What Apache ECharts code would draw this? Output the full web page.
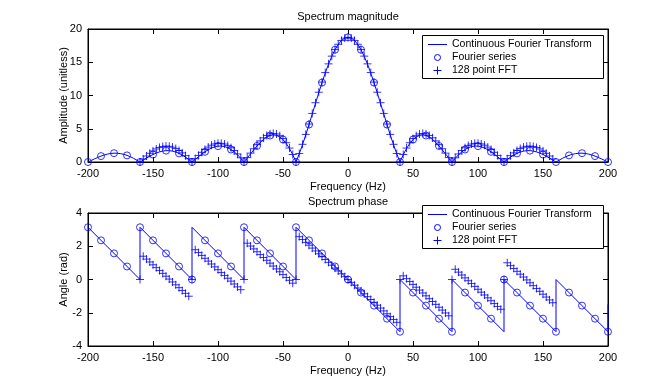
<!DOCTYPE html>
<html><head><meta charset="utf-8">
<script src="https://cdn.jsdelivr.net/npm/echarts@6/dist/echarts.min.js"></script>
<style>html,body{margin:0;padding:0;background:#fff}#c{width:671px;height:389px}</style>
</head><body><div id="c"></div>
<script>
// ---------- DATA ----------
// Continuous Fourier Transform magnitude, f = -200 .. 200 Hz, step 2.5 Hz
const cftStart = -200, cftStep = 2.5;
const cftMag = [
 0, 0.236, 0.469, 0.689, 0.888, 1.059, 1.192, 1.283, 1.326, 1.319, 1.260, 1.151, 0.993, 0.792, 0.554, 0.287,
 0, 0.296, 0.589, 0.870, 1.125, 1.346, 1.521, 1.643, 1.705, 1.703, 1.634, 1.498, 1.299, 1.040, 0.731, 0.380,
 0, 0.396, 0.794, 1.179, 1.535, 1.847, 2.101, 2.284, 2.387, 2.401, 2.322, 2.146, 1.876, 1.516, 1.075, 0.565,
 0, 0.601, 1.218, 1.829, 2.412, 2.941, 3.393, 3.746, 3.979, 4.072, 4.010, 3.781, 3.376, 2.792, 2.030, 1.096,
 0, 1.242, 2.610, 4.081, 5.627, 7.218, 8.822, 10.407, 11.937, 13.380, 14.704, 15.880, 16.881, 17.684, 18.272, 18.630,
 18.75,
 18.630, 18.272, 17.684, 16.881, 15.880, 14.704, 13.380, 11.937, 10.407, 8.822, 7.218, 5.627, 4.081, 2.610, 1.242, 0,
 1.096, 2.030, 2.792, 3.376, 3.781, 4.010, 4.072, 3.979, 3.746, 3.393, 2.941, 2.412, 1.829, 1.218, 0.601, 0,
 0.565, 1.075, 1.516, 1.876, 2.146, 2.322, 2.401, 2.387, 2.284, 2.101, 1.847, 1.535, 1.179, 0.794, 0.396, 0,
 0.380, 0.731, 1.040, 1.299, 1.498, 1.634, 1.703, 1.705, 1.643, 1.521, 1.346, 1.125, 0.870, 0.589, 0.296, 0,
 0.287, 0.554, 0.792, 0.993, 1.151, 1.260, 1.319, 1.326, 1.283, 1.192, 1.059, 0.888, 0.689, 0.469, 0.236, 0
];
// Continuous Fourier Transform phase: straight segments between these break points
const cftPhaseFreq  = [-200, -160, -160, -120, -120, -80, -80, -40, -40, 40, 40, 80, 80, 120, 120, 160, 160, 200, 200];
const cftPhaseAngle = [3.1416, 0, 3.1416, 0, 3.1416, 0, 3.1416, 0, 3.1416, -3.1416, 0, -3.1416, 0, -3.1416, 0, -3.1416, 0, -3.1416, -1.5];

// Fourier series, f = -200 .. 200 Hz, step 10 Hz
const fsStart = -200, fsStep = 10;
const fsMag = [
 0, 0.888, 1.326, 0.993, 0, 1.125, 1.705, 1.299, 0, 1.535, 2.387, 1.876, 0, 2.412, 3.979, 3.376, 0, 5.627, 11.937, 16.881,
 18.75,
 16.881, 11.937, 5.627, 0, 3.376, 3.979, 2.412, 0, 1.876, 2.387, 1.535, 0, 1.299, 1.705, 1.125, 0, 0.993, 1.326, 0.888, 0
];
const fsPhase = [
 3.142, 2.356, 1.571, 0.785, 3.142, 2.356, 1.571, 0.785, 0, 2.356, 1.571, 0.785, 3.142, 2.356, 1.571, 0.785, 3.142, 2.356, 1.571, 0.785,
 0,
 -0.785, -1.571, -2.356, -3.142, -0.785, -1.571, -2.356, -3.142, -0.785, -1.571, -2.356, 0, -0.785, -1.571, -2.356, -3.142, -0.785, -1.571, -2.356, -3.142
];

// 128 point FFT, f = -160 .. 157.5 Hz, step 2.5 Hz
const fftStart = -160, fftStep = 2.5;
const fftMag = [
 0, 0.457, 0.898, 1.306, 1.665, 1.964, 2.189, 2.333, 2.390, 2.356, 2.232, 2.022, 1.732, 1.371, 0.953, 0.490,
 0, 0.500, 0.992, 1.458, 1.879, 2.240, 2.525, 2.721, 2.819, 2.812, 2.696, 2.472, 2.144, 1.720, 1.210, 0.631,
 0, 0.663, 1.336, 1.994, 2.612, 3.168, 3.635, 3.992, 4.219, 4.297, 4.212, 3.954, 3.516, 2.896, 2.098, 1.128,
 0, 1.270, 2.662, 4.151, 5.709, 7.307, 8.912, 10.492, 12.014, 13.446, 14.757, 15.920, 16.908, 17.700, 18.279, 18.632,
 18.75, 18.632, 18.279, 17.700, 16.908, 15.920, 14.757, 13.446, 12.014, 10.492, 8.912, 7.307, 5.709, 4.151, 2.662, 1.270,
 0, 1.128, 2.098, 2.896, 3.516, 3.954, 4.212, 4.297, 4.219, 3.992, 3.635, 3.168, 2.612, 1.994, 1.336, 0.663,
 0, 0.631, 1.210, 1.720, 2.144, 2.472, 2.696, 2.812, 2.819, 2.721, 2.525, 2.240, 1.879, 1.458, 0.992, 0.500,
 0, 0.490, 0.953, 1.371, 1.732, 2.022, 2.232, 2.356, 2.390, 2.333, 2.189, 1.964, 1.665, 1.306, 0.898, 0.457
];
const fftPhase = [
 0, 1.399, 1.228, 1.056, 0.884, 0.712, 0.540, 0.369, 0.197, 0.025, -0.147, -0.319, -0.491, -0.663, -0.834, -1.006,
 0, 1.792, 1.620, 1.448, 1.276, 1.104, 0.933, 0.761, 0.589, 0.417, 0.245, 0.074, -0.098, -0.270, -0.442, -0.614,
 0, 2.184, 2.013, 1.841, 1.669, 1.497, 1.325, 1.154, 0.982, 0.810, 0.638, 0.466, 0.295, 0.123, -0.049, -0.221,
 0, 2.577, 2.405, 2.233, 2.062, 1.890, 1.718, 1.546, 1.374, 1.203, 1.031, 0.859, 0.687, 0.515, 0.344, 0.172,
 0, -0.172, -0.344, -0.515, -0.687, -0.859, -1.031, -1.203, -1.374, -1.546, -1.718, -1.890, -2.062, -2.233, -2.405, -2.577,
 0, 0.221, 0.049, -0.123, -0.295, -0.466, -0.638, -0.810, -0.982, -1.154, -1.325, -1.497, -1.669, -1.841, -2.013, -2.184,
 0, 0.614, 0.442, 0.270, 0.098, -0.074, -0.245, -0.417, -0.589, -0.761, -0.933, -1.104, -1.276, -1.448, -1.620, -1.792,
 0, 1.006, 0.834, 0.663, 0.491, 0.319, 0.147, -0.025, -0.197, -0.369, -0.540, -0.712, -0.884, -1.056, -1.228, -1.399
];

const seriesNames = ['Continuous Fourier Transform', 'Fourier series', '128 point FFT'];
const titles = ['Spectrum magnitude', 'Spectrum phase'];
const xName = 'Frequency (Hz)';
const yNames = ['Amplitude (unitless)', 'Angle (rad)'];
const xRange = [-200, 200, 50];
const yRanges = [[0, 20, 5], [-4, 4, 2]];

// ---------- CHART ----------
const FONT = '"Liberation Sans", Arial, sans-serif';
const BLUE = '#0000ff';
const freqs = (start, step, arr) => arr.map((_, i) => start + i * step);
const zip = (xs, ys) => xs.map((x, i) => [x, ys[i]]);

const cftFreq = freqs(cftStart, cftStep, cftMag);
const fsFreq = freqs(fsStart, fsStep, fsMag);
const fftFreq = freqs(fftStart, fftStep, fftMag);

const grids = [
  {left: 88, top: 29, width: 520, height: 133, show: true, borderColor: '#000', borderWidth: 1},
  {left: 88, top: 213, width: 520, height: 133, show: true, borderColor: '#000', borderWidth: 1}
];

const tickStyle = {inside: true, length: 5, lineStyle: {color: '#000', width: 1}};
const lblStyle = {color: '#000', fontSize: 11, fontFamily: FONT};

const xAxes = [], yAxes = [];
[0, 1].forEach(g => {
  xAxes.push({gridIndex: g, type: 'value', min: xRange[0], max: xRange[1], interval: xRange[2], position: 'bottom',
    axisLine: {show: true, onZero: false, lineStyle: {color: '#000'}}, axisTick: tickStyle,
    axisLabel: Object.assign({margin: 6, showMinLabel: true, showMaxLabel: true}, lblStyle),
    splitLine: {show: false}, name: xName, nameLocation: 'middle', nameGap: 19, nameMoveOverlap: false,
    nameTextStyle: Object.assign({}, lblStyle)});
  xAxes.push({gridIndex: g, type: 'value', min: xRange[0], max: xRange[1], interval: xRange[2], position: 'top',
    axisLine: {show: true, onZero: false, lineStyle: {color: '#000'}}, axisTick: tickStyle,
    axisLabel: {show: false}, splitLine: {show: false}});
  const yr = yRanges[g];
  yAxes.push({gridIndex: g, type: 'value', min: yr[0], max: yr[1], interval: yr[2], position: 'left',
    axisLine: {show: true, onZero: false, lineStyle: {color: '#000'}}, axisTick: tickStyle,
    axisLabel: Object.assign({margin: 6}, lblStyle), splitLine: {show: false},
    name: yNames[g], nameLocation: 'middle', nameGap: 19, nameRotate: 90, nameMoveOverlap: false,
    nameTextStyle: Object.assign({}, lblStyle)});
  yAxes.push({gridIndex: g, type: 'value', min: yr[0], max: yr[1], interval: yr[2], position: 'right',
    axisLine: {show: true, onZero: false, lineStyle: {color: '#000'}}, axisTick: tickStyle,
    axisLabel: {show: false}, splitLine: {show: false}});
});

const plusPath = 'path://M4,0 L4,8 M0,4 L8,4';
function trio(g, lineData, fsData, fftData) {
  const xi = g * 2, yi = g * 2;
  return [
    {name: seriesNames[0], type: 'line', xAxisIndex: xi, yAxisIndex: yi, data: lineData,
      symbol: 'none', lineStyle: {color: BLUE, width: 1}, itemStyle: {color: BLUE}, animation: false},
    {name: seriesNames[1], type: 'scatter', xAxisIndex: xi, yAxisIndex: yi, data: fsData,
      symbol: 'circle', symbolSize: 7,
      itemStyle: {color: 'rgba(0,0,0,0)', borderColor: BLUE, borderWidth: 1}, animation: false},
    {name: seriesNames[2], type: 'scatter', xAxisIndex: xi, yAxisIndex: yi, data: fftData,
      symbol: plusPath, symbolSize: 8,
      itemStyle: {color: 'rgba(0,0,0,0)', borderColor: BLUE, borderWidth: 1}, animation: false}
  ];
}

const series = [].concat(
  trio(0, zip(cftFreq, cftMag), zip(fsFreq, fsMag), zip(fftFreq, fftMag)),
  trio(1, zip(cftPhaseFreq, cftPhaseAngle), zip(fsFreq, fsPhase), zip(fftFreq, fftPhase))
);

// Legend boxes (MATLAB style), one per subplot, drawn above the axes
function legendBox(top) {
  const L = 422.5, W = 181, H = 43, rows = [8.5, 21.5, 35], Z = 100;
  const kids = [{type: 'rect', z: Z, shape: {x: L, y: top + 0.5, width: W, height: H},
    style: {fill: '#fff', stroke: '#000', lineWidth: 1}}];
  rows.forEach((dy, i) => {
    const cy = Math.round(top + dy) + 0.5;
    if (i === 0) kids.push({type: 'line', z: Z + 1, shape: {x1: 428, y1: cy, x2: 447, y2: cy}, style: {stroke: BLUE, lineWidth: 1}});
    if (i === 1) kids.push({type: 'circle', z: Z + 1, shape: {cx: 437.5, cy: cy, r: 3}, style: {fill: 'none', stroke: BLUE, lineWidth: 1}});
    if (i === 2) kids.push({type: 'polyline', z: Z + 1, shape: {points: [[437.5, cy - 4], [437.5, cy + 4]]}, style: {stroke: BLUE, lineWidth: 1}},
                           {type: 'polyline', z: Z + 1, shape: {points: [[433.5, cy], [441.5, cy]]}, style: {stroke: BLUE, lineWidth: 1}});
    kids.push({type: 'text', z: Z + 1, style: {text: seriesNames[i], x: 452, y: cy, verticalAlign: 'middle',
      fill: '#000', font: '10.5px ' + FONT}});
  });
  return {type: 'group', z: Z, children: kids};
}

const option = {
  backgroundColor: '#fff',
  animation: false,
  title: [
    {text: titles[0], left: 348, top: 11, textAlign: 'center', padding: 0, textStyle: Object.assign({fontWeight: 'normal'}, lblStyle)},
    {text: titles[1], left: 348, top: 196, textAlign: 'center', padding: 0, textStyle: Object.assign({fontWeight: 'normal'}, lblStyle)}
  ],
  grid: grids,
  xAxis: xAxes,
  yAxis: yAxes,
  graphic: [legendBox(35), legendBox(205)],
  series: series
};

echarts.init(document.getElementById('c'), null, {renderer: 'canvas'}).setOption(option);
</script>
</body></html>
